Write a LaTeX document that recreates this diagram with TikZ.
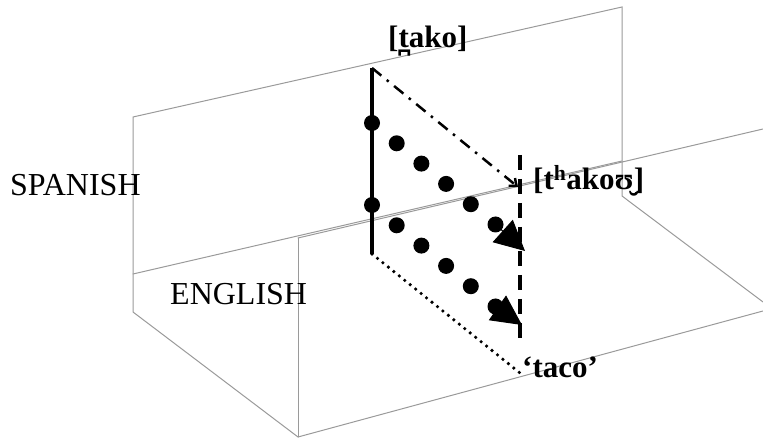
\documentclass[tikz,border=0pt]{standalone}
\usepackage{fontspec}
\setmainfont{Liberation Serif}
\usepackage{tikz}
\usetikzlibrary{arrows.meta,calc}
\usepackage{tkz-euclide}
\usepackage{xcolor}
\definecolor{PlaneGray}{HTML}{9a9a9a}

\begin{document}
\begin{tikzpicture}[x=1pt,y=1pt,
    langlabel/.style={anchor=base west,inner sep=0pt,font=\fontsize{32}{38}\selectfont},
    formlabel/.style={anchor=base west,inner sep=0pt,font=\fontsize{31}{37}\selectfont\bfseries}]
   \useasboundingbox (0,0) rectangle (763,439);
   % the two planes
   \foreach \x/\y/\name in {133/322/A,622/432/B,622/243/C,763/137/D,133/127/E,298/2/F,
                            763/128/G,298/201/H,763/310/I,133/165/J,622/278/K} {
    \tkzDefPoint(\x,\y){\name}
   }
   \tkzDrawPolySeg[color=PlaneGray,line width=1pt](D,C,B,A,E,F,G)
   \tkzDrawSegments[color=PlaneGray,line width=1pt](J,K H,I H,F)

   % the path from [tako]
   \tkzDefPoint(372,371){T}
   \tkzDefPoint(372,185){S}
   \tkzDefPoint(372,316){P}
   \tkzDefPoint(372,234){Q}
   \tkzDefPoint(518,252){M}
   \tkzDefPoint(520,284){U}
   \tkzDefPoint(520,101){V}
   \tkzDefPoint(520,66){W}
   \tkzDefPoint(525,188){P'}
   \tkzDefPoint(522,114){Q'}
   \draw[line width=4pt] (T) -- (S);
   \draw[line width=2.5pt,dash pattern=on 12pt off 7pt on 2.5pt off 7pt,
         -{Straight Barb[length=6pt,width=10pt]}] (T) -- (M);
   \draw[line width=4pt,dash pattern=on 15pt off 9pt] (U) -- (V);
   \draw[line width=3.6pt,line cap=round,dash pattern=on 0pt off 7pt] (S) -- (W);
   \foreach \p/\q in {P/P',Q/Q'} {
    \foreach \i in {0,...,5}
     \fill ($(\p)+(\i*24.7,-\i*20.3)$) circle (8);
    \draw[line width=1pt,-{Triangle[length=30pt,width=30pt]}]
       ($(\p)+(5*24.7,-5*20.3)$) -- (\q);
   }

   \node[formlabel] (tako) at (388,391) {[t̪ako]};
   \node[formlabel] (thakou) at (533,249) {[t\textsuperscript{h}akoʊ̮]};
   \node[formlabel] (taco) at (522,61) {‘taco’};
   \node[langlabel] (spanish) at (10,243) {SPANISH};
   \node[langlabel] (english) at (170,134) {ENGLISH};
  \end{tikzpicture}
\end{document}
